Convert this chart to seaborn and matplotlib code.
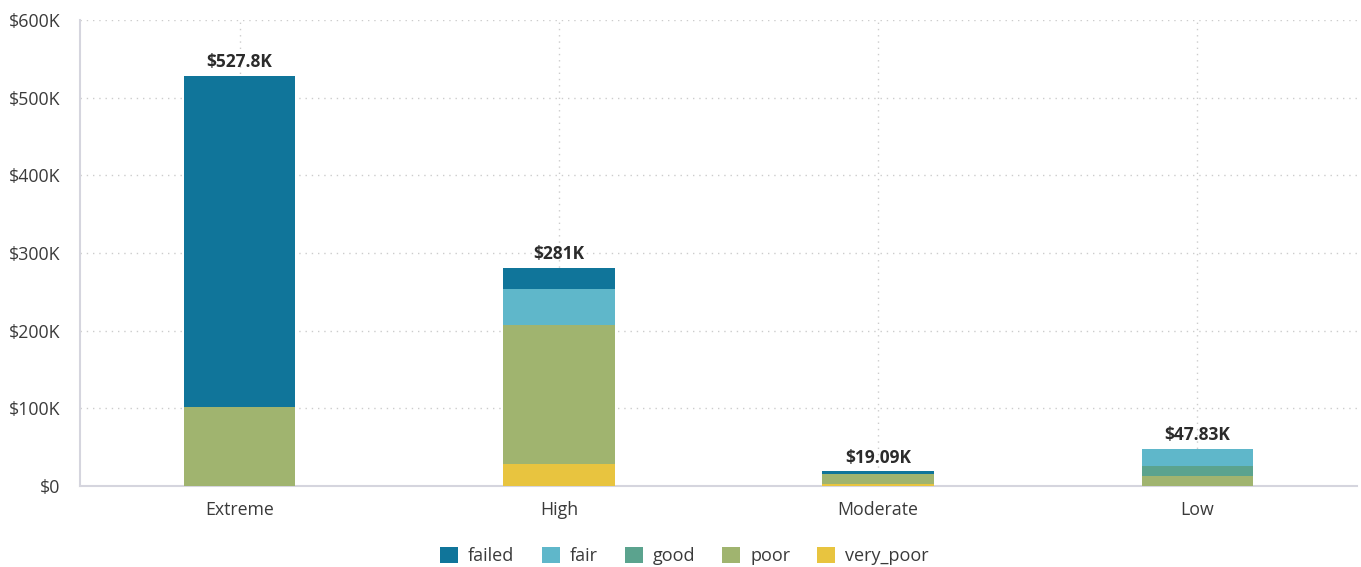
import matplotlib
matplotlib.use("Agg")
import matplotlib.pyplot as plt
from matplotlib.patches import Patch
import seaborn as sns
import pandas as pd
import numpy as np

# Replacement cost by risk level, split by asset condition (in $K)
risk_levels = ["Extreme", "High", "Moderate", "Low"]
conditions = ["failed", "fair", "good", "poor", "very_poor"]
failed = [425.8, 27.0, 3.0, 0.0]
fair = [0.0, 46.4, 0.0, 22.35]
good = [0.0, 0.0, 0.0, 12.5]
poor = [102.0, 179.5, 13.6, 12.98]
very_poor = [0.0, 28.1, 2.49, 0.0]
total_labels = ["$527.8K", "$281K", "$19.09K", "$47.83K"]
y_ticks = [0, 100, 200, 300, 400, 500, 600]
y_tick_labels = ["$0", "$100K", "$200K", "$300K", "$400K", "$500K", "$600K"]

palette = {
    "failed": "#10759a",
    "fair": "#5fb7ca",
    "good": "#5ba38e",
    "poor": "#a0b46f",
    "very_poor": "#e8c43f",
}

series = {"failed": failed, "fair": fair, "good": good,
          "poor": poor, "very_poor": very_poor}

rows = []
for cond in conditions:
    for lvl, v in zip(risk_levels, series[cond]):
        rows.append({"risk": lvl, "condition": cond, "value": v})
df = pd.DataFrame(rows)

# Cumulative height of each segment: failed on top, very_poor at the base
order_bottom_up = conditions[::-1]
wide = df.pivot(index="risk", columns="condition", values="value").loc[risk_levels]
cum = wide[order_bottom_up].cumsum(axis=1)

sns.set_theme(style="white")
plt.rcParams["font.family"] = ["Open Sans", "DejaVu Sans"]

fig = plt.figure(figsize=(13.61, 5.67), dpi=100)
ax = fig.add_axes([80 / 1361, 1 - 486 / 567, (1357 - 80) / 1361, (486 - 20) / 567])

# Draw from the tallest cumulative layer down so each segment overlays the one above
for cond in conditions:
    layer = pd.DataFrame({"risk": risk_levels, "height": cum[cond].values})
    sns.barplot(data=layer, x="risk", y="height", order=risk_levels,
                color=palette[cond], width=0.35, saturation=1,
                linewidth=0, ax=ax, zorder=3)

totals = wide.sum(axis=1).values
for i, (t, lab) in enumerate(zip(totals, total_labels)):
    ax.text(i, t + 6, lab, ha="center", va="bottom", fontsize=12.5,
            fontweight="bold", color="#2b2b2b", zorder=4)

ax.set_xlim(-0.5, 3.5)
ax.set_ylim(0, 600)
ax.set_yticks(y_ticks)
ax.set_yticklabels(y_tick_labels)
ax.set_xlabel("")
ax.set_ylabel("")
ax.tick_params(axis="both", length=0, labelsize=12.8, colors="#3a3a3a")
ax.tick_params(axis="y", pad=14)
ax.tick_params(axis="x", pad=10.5)

ax.grid(True, axis="both", linestyle=(0, (1, 3.5)), color="#cccccc", linewidth=1, zorder=0)
ax.set_axisbelow(True)
for side in ["top", "right"]:
    ax.spines[side].set_visible(False)
for side in ["left", "bottom"]:
    ax.spines[side].set_color("#d5d5de")
    ax.spines[side].set_linewidth(1.5)

handles = [Patch(facecolor=palette[c], edgecolor="none", label=c) for c in conditions]
fig.legend(handles=handles, loc="center", bbox_to_anchor=(0.503, 1 - 556 / 567),
           ncol=5, frameon=False, fontsize=13, handlelength=1.0, handleheight=1.0,
           handletextpad=0.55, columnspacing=1.5, labelcolor="#3a3a3a")

fig.savefig("out.png", dpi=100)
